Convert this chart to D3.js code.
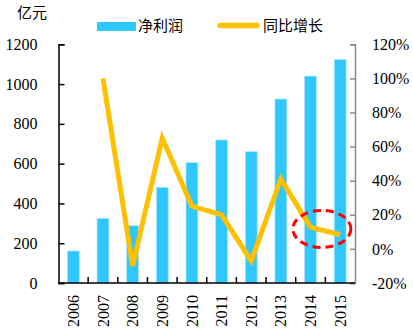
<!DOCTYPE html>
<html>
<head>
<meta charset="utf-8">
<script src="https://cdn.jsdelivr.net/npm/d3@7"></script>
<style>
body{margin:0;background:#fff;}
</style>
</head>
<body>
<svg id="chart" width="413" height="334"></svg>
<script>
var anni = ["2006","2007","2008","2009","2010","2011","2012","2013","2014","2015"];
var utile = [161, 325, 288, 481, 605, 719, 660, 925, 1040, 1124];   // 净利润 (亿元)
var crescita = [null, 100, -10, 65, 25, 20, -7, 41, 12.7, 8.4];     // 同比增长 (%)
var tickSx = [0, 200, 400, 600, 800, 1000, 1200];
var tickDx = [-20, 0, 20, 40, 60, 80, 100, 120];

var svg = d3.select("#chart");
// nb: "top" e' riservato (window.top), uso altri nomi
var mSx = 58.5, mDx = 355, mAlto = 44.3, mBasso = 283;
var serif = "'Liberation Serif','Times New Roman',serif";
var cjk = "'Noto Sans CJK SC',sans-serif";

var x = d3.scaleBand().domain(anni).range([mSx, mDx]).paddingInner(0).paddingOuter(0);
var ySx = d3.scaleLinear().domain([0, 1200]).range([mBasso, mAlto]);
var yDx = d3.scaleLinear().domain([-20, 120]).range([mBasso, mAlto]);

// barre
var bw = x.bandwidth() * 0.4;
svg.append("g").selectAll("rect")
    .data(utile)
    .enter().append("rect")
    .attr("x", function(d, i){ return x(anni[i]) + x.bandwidth()/2 - bw/2; })
    .attr("y", function(d){ return ySx(d); })
    .attr("width", bw)
    .attr("height", function(d){ return mBasso - ySx(d); })
    .attr("fill", "#2ec7ff")
    .attr("stroke", "#a9e5ff")
    .attr("stroke-width", 0.8);

// linea crescita
var punti = [];
for(var i=0; i<anni.length; i++){
    if(crescita[i] != null) punti.push([anni[i], crescita[i]]);
}
var linea = d3.line()
    .x(function(d){ return x(d[0]) + x.bandwidth()/2; })
    .y(function(d){ return yDx(d[1]); });
svg.append("path")
    .datum(punti)
    .attr("d", linea)
    .attr("fill", "none")
    .attr("stroke", "#ffc000")
    .attr("stroke-width", 5)
    .attr("stroke-linejoin", "miter");

// ellisse rossa tratteggiata
var cx1 = x("2014") + x.bandwidth()/2, cx2 = x("2015") + x.bandwidth()/2;
svg.append("ellipse")
    .attr("cx", (cx1 + cx2)/2 - 3.5)
    .attr("cy", yDx((crescita[8] + crescita[9])/2) - 2)
    .attr("rx", 29)
    .attr("ry", 18.5)
    .attr("fill", "none")
    .attr("stroke", "#ff0000")
    .attr("stroke-width", 3)
    .attr("stroke-dasharray", "8,5");

// asse sinistro
var asseSx = d3.axisLeft(ySx).tickValues(tickSx).tickSize(-6).tickPadding(21).tickFormat(d3.format("d"));
var gSx = svg.append("g").attr("transform", "translate(" + mSx + ",0)").call(asseSx);
gSx.select(".domain").attr("stroke", "#000").attr("stroke-width", 1.5);
gSx.selectAll(".tick line").attr("stroke", "#000").attr("stroke-width", 1.5);
gSx.selectAll("text").style("font-family", serif).style("font-size", "16px").attr("fill", "#000");

// asse destro
var asseDx = d3.axisRight(yDx).tickValues(tickDx).tickSize(-5).tickPadding(17).tickFormat(function(d){ return d + "%"; });
var gDx = svg.append("g").attr("transform", "translate(" + mDx + ",0)").call(asseDx);
gDx.select(".domain").attr("stroke", "#888").attr("stroke-width", 1.5);
gDx.selectAll(".tick line").attr("stroke", "#888").attr("stroke-width", 1.5);
gDx.selectAll("text").style("font-family", serif).style("font-size", "16px").attr("fill", "#000");

// asse x
svg.append("line")
    .attr("x1", mSx).attr("x2", mDx).attr("y1", mBasso).attr("y2", mBasso)
    .attr("stroke", "#000").attr("stroke-width", 1.5);
svg.append("g").selectAll("line")
    .data(anni.slice(1))
    .enter().append("line")
    .attr("x1", function(d){ return x(d); })
    .attr("x2", function(d){ return x(d); })
    .attr("y1", mBasso)
    .attr("y2", mBasso - 6)
    .attr("stroke", "#000").attr("stroke-width", 1.5);
svg.append("g").selectAll("text")
    .data(anni)
    .enter().append("text")
    .attr("transform", function(d){ return "translate(" + (x(d) + x.bandwidth()/2) + ",295) rotate(-90)"; })
    .attr("text-anchor", "end")
    .attr("dy", "0.35em")
    .style("font-family", serif)
    .style("font-size", "16px")
    .attr("fill", "#000")
    .text(function(d){ return d; });

// unita
svg.append("text")
    .attr("x", 17).attr("y", 18)
    .style("font-family", cjk).style("font-size", "15px")
    .attr("fill", "#000")
    .text("亿元");

// legenda
svg.append("rect")
    .attr("x", 97).attr("y", 22).attr("width", 39).attr("height", 9)
    .attr("fill", "#2ec7ff");
svg.append("text")
    .attr("x", 138).attr("y", 31)
    .style("font-family", cjk).style("font-size", "15px")
    .attr("fill", "#000")
    .text("净利润");
svg.append("line")
    .attr("x1", 220).attr("x2", 257).attr("y1", 25.5).attr("y2", 25.5)
    .attr("stroke", "#ffc000").attr("stroke-width", 5.5).attr("stroke-linecap", "round");
svg.append("text")
    .attr("x", 263).attr("y", 31)
    .style("font-family", cjk).style("font-size", "15px")
    .attr("fill", "#000")
    .text("同比增长");
</script>
</body>
</html>
